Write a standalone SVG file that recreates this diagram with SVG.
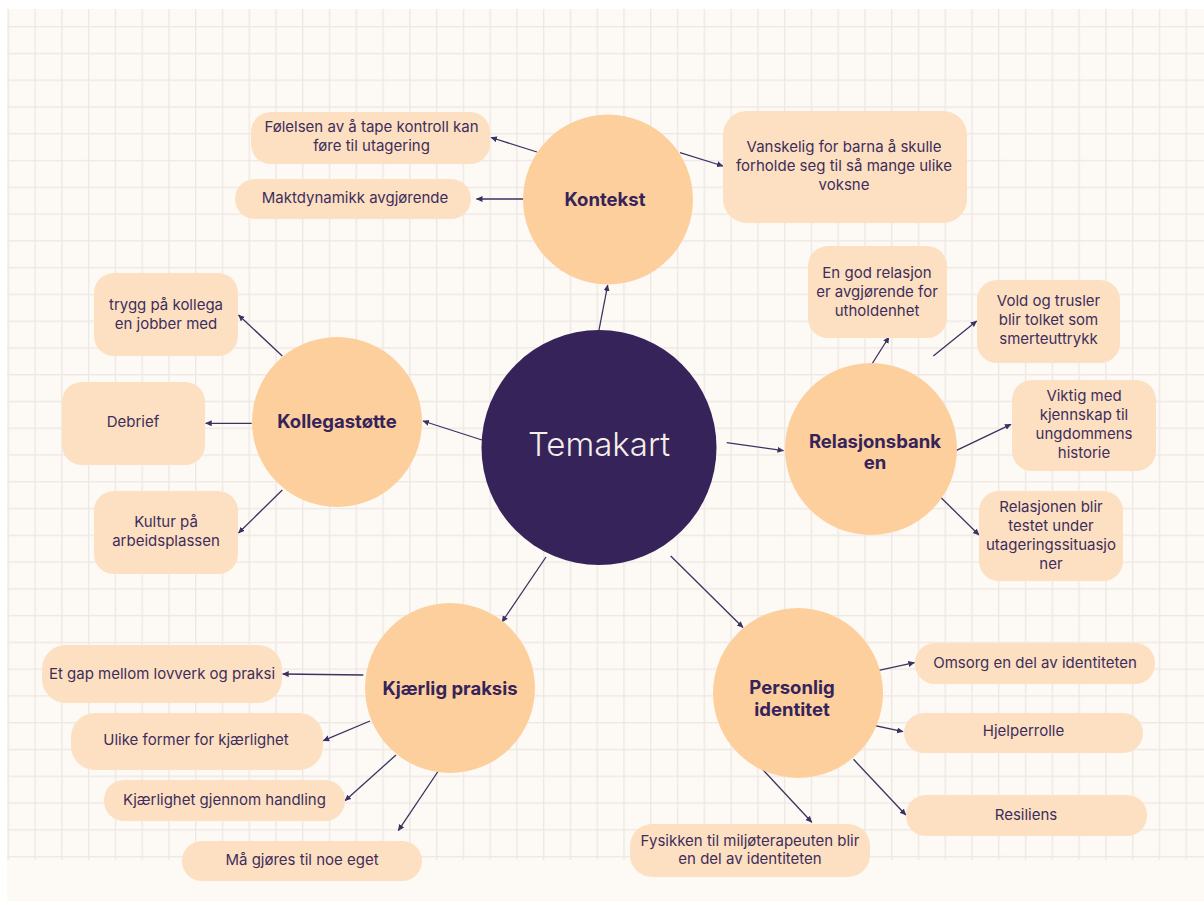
<svg xmlns="http://www.w3.org/2000/svg" width="1204" height="905" viewBox="0 0 1204 905">
<defs>
<pattern id="grid" patternUnits="userSpaceOnUse" x="7.6" y="26" width="26.77" height="26.77">
<rect x="0" y="0" width="1.4" height="26.77" fill="#eee8e5"/>
<rect x="0" y="0" width="26.77" height="1.4" fill="#eee8e5"/>
</pattern>
<marker id="arr" markerUnits="userSpaceOnUse" markerWidth="8" markerHeight="8" refX="6" refY="3" orient="auto">
<path d="M0,0 L6.5,3 L0,6 z" fill="#3d3160"/>
</marker>
<style>
.box{fill:#fde0c1}
.sub{fill:#fdcf9c}
.t{font-family:Inter,"Noto Sans","Liberation Sans",sans-serif;font-size:15px;fill:#3d2e5c;text-anchor:middle}
.b{font-family:Inter,"Noto Sans","Liberation Sans",sans-serif;font-size:18.5px;font-weight:700;fill:#35235a;text-anchor:middle}
.c{stroke:#3d3160;stroke-width:1.3;fill:none;marker-end:url(#arr)}
</style>
</defs>
<rect x="0" y="0" width="1204" height="905" fill="#ffffff"/>
<rect x="7" y="9" width="1197" height="892" fill="#fdf9f5"/>
<rect x="7" y="9" width="1197" height="851" fill="url(#grid)"/>

<g id="connectors">
<line class="c" x1="599" y1="330" x2="607.7" y2="285"/>
<line class="c" x1="537" y1="152" x2="491" y2="137.5"/>
<line class="c" x1="523" y1="199" x2="476.5" y2="199"/>
<line class="c" x1="680" y1="152.7" x2="723" y2="166"/>
<line class="c" x1="482" y1="440" x2="423" y2="421"/>
<line class="c" x1="282.3" y1="356" x2="238.5" y2="315"/>
<line class="c" x1="251.7" y1="423.3" x2="205.7" y2="423.3"/>
<line class="c" x1="282.3" y1="490" x2="238.5" y2="533"/>
<line class="c" x1="726.7" y1="442.7" x2="783.5" y2="450.7"/>
<line class="c" x1="870.7" y1="366" x2="889" y2="337"/>
<line class="c" x1="933.3" y1="356" x2="976.7" y2="321"/>
<line class="c" x1="956" y1="450.7" x2="1011" y2="424.3"/>
<line class="c" x1="933.3" y1="490" x2="979" y2="535"/>
<line class="c" x1="546" y1="557" x2="502" y2="622"/>
<line class="c" x1="363.3" y1="675" x2="282.7" y2="674"/>
<line class="c" x1="370" y1="721" x2="323.3" y2="740.7"/>
<line class="c" x1="396" y1="755" x2="345" y2="800.7"/>
<line class="c" x1="438.3" y1="771" x2="398.3" y2="830.7"/>
<line class="c" x1="670.7" y1="556" x2="743" y2="627.5"/>
<line class="c" x1="854.8" y1="675.7" x2="914.4" y2="662.7"/>
<line class="c" x1="849" y1="720" x2="903" y2="731.7"/>
<line class="c" x1="853.5" y1="759.3" x2="905.8" y2="815"/>
<line class="c" x1="759.5" y1="766" x2="811.8" y2="822.3"/>
</g>

<g id="temakart">
<circle cx="599" cy="447.5" r="117.5" fill="#35235a"/>
<text x="599" y="456" font-family="Inter,'Noto Sans','Liberation Sans',sans-serif" font-size="33" font-weight="300" fill="#f3eee8" text-anchor="middle">Temakart</text>
</g>

<g id="kontekst">
<circle class="sub" cx="608" cy="199.5" r="85"/>
<text class="b" x="605" y="206">Kontekst</text>
</g>
<g id="kontekst-folelsen">
<rect class="box" x="251" y="112" width="239" height="52" rx="20"/>
<text class="t" x="371.5" y="132">Følelsen av å tape kontroll kan</text>
<text class="t" x="371.5" y="150.5">føre til utagering</text>
</g>
<g id="kontekst-makt">
<rect class="box" x="235" y="179" width="236" height="40" rx="20"/>
<text class="t" x="355" y="202.5">Maktdynamikk avgjørende</text>
</g>
<g id="kontekst-vanskelig">
<rect class="box" x="723" y="111" width="244" height="112" rx="24"/>
<text class="t" x="844" y="152">Vanskelig for barna å skulle</text>
<text class="t" x="844" y="171">forholde seg til så mange ulike</text>
<text class="t" x="844" y="190">voksne</text>
</g>

<g id="relasjonsbanken">
<circle class="sub" cx="871" cy="449" r="86"/>
<text class="b" x="875" y="447.5">Relasjonsbank</text>
<text class="b" x="875" y="469">en</text>
</g>
<g id="rel-god">
<rect class="box" x="808" y="246" width="139" height="92" rx="20"/>
<text class="t" x="877" y="277.5">En god relasjon</text>
<text class="t" x="877" y="297">er avgjørende for</text>
<text class="t" x="877" y="315.5">utholdenhet</text>
</g>
<g id="rel-vold">
<rect class="box" x="977" y="280" width="143" height="83" rx="20"/>
<text class="t" x="1048.5" y="306">Vold og trusler</text>
<text class="t" x="1048.5" y="325">blir tolket som</text>
<text class="t" x="1048.5" y="343.5">smerteuttrykk</text>
</g>
<g id="rel-viktig">
<rect class="box" x="1012" y="380" width="144" height="91" rx="20"/>
<text class="t" x="1084" y="400.5">Viktig med</text>
<text class="t" x="1084" y="419.5">kjennskap til</text>
<text class="t" x="1084" y="438.5">ungdommens</text>
<text class="t" x="1084" y="457.5">historie</text>
</g>
<g id="rel-testet">
<rect class="box" x="979" y="491" width="144" height="90" rx="20"/>
<text class="t" x="1051" y="512">Relasjonen blir</text>
<text class="t" x="1051" y="531">testet under</text>
<text class="t" x="1051" y="550">utageringssituasjo</text>
<text class="t" x="1051" y="569">ner</text>
</g>

<g id="kollegastotte">
<circle class="sub" cx="337" cy="422" r="85"/>
<text class="b" x="337" y="428">Kollegastøtte</text>
</g>
<g id="koll-trygg">
<rect class="box" x="94" y="273" width="144" height="83" rx="20"/>
<text class="t" x="166" y="309.5">trygg på kollega</text>
<text class="t" x="166" y="328.5">en jobber med</text>
</g>
<g id="koll-debrief">
<rect class="box" x="62" y="382" width="143" height="83" rx="20"/>
<text class="t" x="133" y="427">Debrief</text>
</g>
<g id="koll-kultur">
<rect class="box" x="94" y="491" width="144" height="83" rx="20"/>
<text class="t" x="166" y="527">Kultur på</text>
<text class="t" x="166" y="546">arbeidsplassen</text>
</g>

<g id="kjaerlig-praksis">
<circle class="sub" cx="450" cy="688" r="85"/>
<text class="b" x="450" y="695">Kjærlig praksis</text>
</g>
<g id="kp-gap">
<rect class="box" x="42" y="645" width="240" height="58" rx="24"/>
<text class="t" x="162" y="678.5">Et gap mellom lovverk og praksi</text>
</g>
<g id="kp-ulike">
<rect class="box" x="71" y="713" width="252" height="57" rx="24"/>
<text class="t" x="196" y="745">Ulike former for kjærlighet</text>
</g>
<g id="kp-handling">
<rect class="box" x="104" y="780" width="241" height="41" rx="20"/>
<text class="t" x="224.5" y="805">Kjærlighet gjennom handling</text>
</g>
<g id="kp-eget">
<rect class="box" x="182" y="841" width="240" height="40" rx="20"/>
<text class="t" x="302" y="865">Må gjøres til noe eget</text>
</g>

<g id="personlig-identitet">
<circle class="sub" cx="798" cy="693" r="85"/>
<text class="b" x="792" y="694">Personlig</text>
<text class="b" x="792" y="716">identitet</text>
</g>
<g id="pi-omsorg">
<rect class="box" x="915" y="643" width="240" height="41" rx="20"/>
<text class="t" x="1035" y="667.5">Omsorg en del av identiteten</text>
</g>
<g id="pi-hjelper">
<rect class="box" x="904" y="713" width="239" height="40" rx="20"/>
<text class="t" x="1023.5" y="735.5">Hjelperrolle</text>
</g>
<g id="pi-resiliens">
<rect class="box" x="906" y="795" width="241" height="41" rx="20"/>
<text class="t" x="1026" y="819.5">Resiliens</text>
</g>
<g id="pi-fysikken">
<rect class="box" x="630" y="824" width="240" height="53" rx="22"/>
<text class="t" x="750" y="845.5">Fysikken til miljøterapeuten blir</text>
<text class="t" x="750" y="864">en del av identiteten</text>
</g>
</svg>
